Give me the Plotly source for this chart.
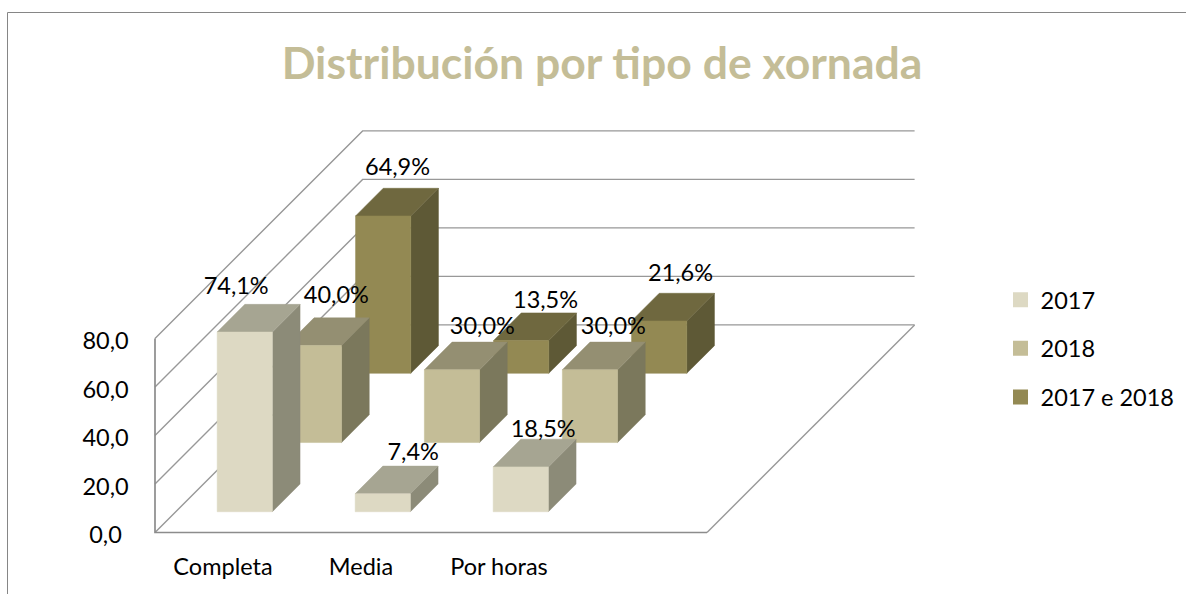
import plotly.graph_objects as go

# ---- data ----
categories = ["Completa", "Media", "Por horas", ""]
series_names = ["2017", "2018", "2017 e 2018"]
values_2017 = [74.1, 7.4, 18.5]
values_2018 = [40.0, 30.0, 30.0]
values_both = [64.9, 13.5, 21.6]
labels_2017 = ["74,1%", "7,4%", "18,5%"]
labels_2018 = ["40,0%", "30,0%", "30,0%"]
labels_both = ["64,9%", "13,5%", "21,6%"]
y_ticks = [0, 20, 40, 60, 80]
y_tick_labels = ["0,0", "20,0", "40,0", "60,0", "80,0"]
title_text = "Distribución por tipo de xornada"

# ---- style ----
FONT = "Lato, Carlito, Calibri, sans-serif"
TEXT_SIZE = 23.5
FACE = {  # front, top, side
    "2017": ("#DDD9C3", "#A6A592", "#8C8B78"),
    "2018": ("#C4BD97", "#948F72", "#7B785C"),
    "2017 e 2018": ("#938953", "#6F683F", "#5E5936"),
}
# nudges of the hand-placed data labels, relative to each bar's back-top corner
NUDGE = {
    "2017": [(19, -16.5), (58, -11.5), (50, -8)],
    "2018": [(50, -20.5), (58, -13.5), (51, -13.5)],
    "2017 e 2018": [(42, -19.5), (52, -10.5), (49, -18.5)],
}

# ---- oblique projection of the chart box onto the page ----
ORIGIN_X, ORIGIN_Y = 155.0, 532.5
CAT_W = 138.0
DEPTH = 69.2
UNIT = 2.425
BAR_W = 0.40   # share of a category
BAR_D = 0.40   # share of a depth slot


def proj(cat, depth, val):
    return (ORIGIN_X + cat * CAT_W + depth * DEPTH,
            ORIGIN_Y - depth * DEPTH - val * UNIT)


def poly(corners):
    pts = [proj(*c) for c in corners] + [proj(*corners[0])]
    return [p[0] for p in pts], [p[1] for p in pts]


fig = go.Figure()
NC = len(categories)
ND = len(series_names)

# wall gridlines
grid_x, grid_y = [], []
for t in y_ticks:
    xs, ys = poly([(0, 0, t), (0, ND, t), (NC, ND, t)])
    grid_x += xs[:3] + [None]
    grid_y += ys[:3] + [None]
fig.add_trace(go.Scatter(x=grid_x, y=grid_y, mode="lines", showlegend=False,
                         hoverinfo="skip", line=dict(color="#989898", width=1.4)))
# floor
xs, ys = poly([(0, ND, 0), (NC, ND, 0), (NC, 0, 0)])
fig.add_trace(go.Scatter(x=xs[1:3], y=ys[1:3], mode="lines", showlegend=False,
                         hoverinfo="skip", line=dict(color="#989898", width=1.4)))
# front axis lines
xs, ys = poly([(0, 0, 80), (0, 0, 0), (NC, 0, 0)])
fig.add_trace(go.Scatter(x=xs[:3], y=ys[:3], mode="lines", showlegend=False,
                         hoverinfo="skip", line=dict(color="#8C8C8C", width=1.7)))

all_values = [values_2017, values_2018, values_both]
all_labels = [labels_2017, labels_2018, labels_both]


def add_face(corners, color):
    xs, ys = poly(corners)
    fig.add_trace(go.Scatter(x=xs, y=ys, mode="lines", fill="toself", fillcolor=color,
                             line=dict(color=color, width=0.5), showlegend=False,
                             hoverinfo="skip"))


# bars, back to front
for s in range(ND - 1, -1, -1):
    name = series_names[s]
    front, top, side = FACE[name]
    d0 = s + (1 - BAR_D) / 2
    d1 = d0 + BAR_D
    for c, v in enumerate(all_values[s]):
        c0 = c + (1 - BAR_W) / 2
        c1 = c0 + BAR_W
        add_face([(c1, d0, 0), (c1, d1, 0), (c1, d1, v), (c1, d0, v)], side)
        add_face([(c0, d0, v), (c1, d0, v), (c1, d1, v), (c0, d1, v)], top)
        add_face([(c0, d0, 0), (c1, d0, 0), (c1, d0, v), (c0, d0, v)], front)

# data labels above all bars
for s, name in enumerate(series_names):
    d0 = s + (1 - BAR_D) / 2
    d1 = d0 + BAR_D
    lx, ly = [], []
    for c, v in enumerate(all_values[s]):
        c0 = c + (1 - BAR_W) / 2
        px, _ = proj(c0, d0, v)
        _, py = proj(c0, d1, v)
        lx.append(px + NUDGE[name][c][0])
        ly.append(py + NUDGE[name][c][1])
    fig.add_trace(go.Scatter(x=lx, y=ly, mode="text", text=all_labels[s], showlegend=False,
                             hoverinfo="skip", textposition="middle center",
                             textfont=dict(family=FONT, size=TEXT_SIZE, color="#000000")))

# value axis labels
tx = [proj(0, 0, t)[0] - 49.5 for t in y_ticks]
ty = [proj(0, 0, t)[1] + 5 for t in y_ticks]
fig.add_trace(go.Scatter(x=tx, y=ty, mode="text", text=y_tick_labels, showlegend=False,
                         hoverinfo="skip", textposition="middle center",
                         textfont=dict(family=FONT, size=TEXT_SIZE, color="#000000")))
# category labels
cx = [proj(c + 0.5, 0, 0)[0] - 1 for c in range(NC - 1)]
cy = [proj(c + 0.5, 0, 0)[1] + 37 for c in range(NC - 1)]
fig.add_trace(go.Scatter(x=cx, y=cy, mode="text", text=categories[:-1], showlegend=False,
                         hoverinfo="skip", textposition="middle center",
                         textfont=dict(family=FONT, size=TEXT_SIZE, color="#000000")))

# legend entries
for name in series_names:
    fig.add_trace(go.Scatter(x=[None], y=[None], mode="markers", name=name, legendgroup=name,
                             marker=dict(symbol="square", size=15, color=FACE[name][0])))

fig.update_layout(
    width=1186, height=594, autosize=False,
    margin=dict(l=0, r=0, t=0, b=0),
    paper_bgcolor="#FFFFFF", plot_bgcolor="#FFFFFF",
    xaxis=dict(range=[0, 1186], visible=False, fixedrange=True),
    yaxis=dict(range=[594, 0], visible=False, fixedrange=True),
    title=dict(text=title_text, x=602 / 1186, xanchor="center", y=1 - 63 / 594, yanchor="middle",
               font=dict(family=FONT, size=44.5, color="#C4BD97", weight="bold")),
    legend=dict(x=1000.5 / 1186, y=1 - 278 / 594, xanchor="left", yanchor="top",
                tracegroupgap=15, font=dict(family=FONT, size=TEXT_SIZE, color="#000000"),
                bgcolor="rgba(0,0,0,0)", itemclick=False, itemdoubleclick=False),
    shapes=[
        dict(type="line", xref="paper", yref="paper", x0=7.5 / 1186, x1=7.5 / 1186, y0=0, y1=1 - 12.5 / 594,
             line=dict(color="#868686", width=1)),
        dict(type="line", xref="paper", yref="paper", x0=7.5 / 1186, x1=1, y0=1 - 12.5 / 594, y1=1 - 12.5 / 594,
             line=dict(color="#868686", width=1)),
    ],
    showlegend=True,
)
fig.write_html("out.html", config={"displayModeBar": False},
               post_script="document.body.style.margin='0';document.body.style.overflow='hidden';")
